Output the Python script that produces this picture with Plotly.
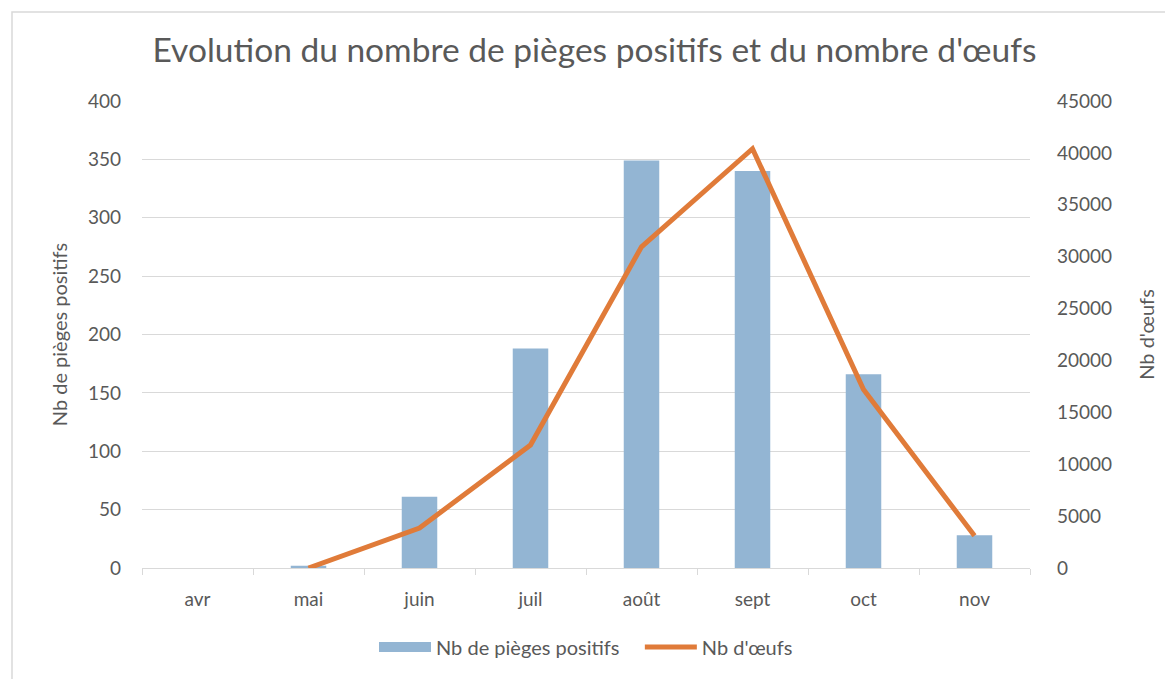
import plotly.graph_objects as go

months = ["avr", "mai", "juin", "juil", "août", "sept", "oct", "nov"]
pieges = [0, 2, 61, 188, 349, 340, 166, 28]
oeufs_months = ["mai", "juin", "juil", "août", "sept", "oct", "nov"]
oeufs = [0, 3850, 11850, 30950, 40400, 17200, 3100]

FONT = "Lato, 'Noto Sans', sans-serif"
GREY = "#595959"
BLUE = "#93B5D3"
ORANGE = "#E07B39"

fig = go.Figure()
fig.add_trace(go.Bar(x=months, y=pieges, name="Nb de pièges positifs",
                     marker=dict(color=BLUE, line=dict(width=0)), width=0.32,
                     showlegend=False))
fig.add_trace(go.Scatter(x=[None], y=[None], name="Nb de pièges positifs   ",
                         mode="lines", line=dict(color=BLUE, width=16)))
fig.add_trace(go.Scatter(x=oeufs_months, y=oeufs, name="Nb d'œufs", yaxis="y2",
                         mode="lines", line=dict(color=ORANGE, width=5)))

fig.update_layout(
    width=1173, height=679,
    margin=dict(l=134, r=151, t=93, b=119, autoexpand=False),
    paper_bgcolor="white", plot_bgcolor="white",
    font=dict(family=FONT, color=GREY, size=19),
    title=dict(text="Evolution du nombre de pièges positifs et du nombre d'œufs",
               x=0.5, xanchor="center", y=0.938, yanchor="middle",
               font=dict(size=33.5, color=GREY, family=FONT)),
    xaxis=dict(type="category", categoryorder="array", categoryarray=months,
               showgrid=False, showline=True, linecolor="#d9d9d9", linewidth=1,
               ticks="outside", tickson="boundaries", tickcolor="#d9d9d9",
               ticklen=6, ticklabelstandoff=14,
               tickfont=dict(size=19, color=GREY), automargin=False),
    yaxis=dict(range=[0, 400], dtick=50, showgrid=True, gridcolor="#d9d9d9",
               gridwidth=1, zeroline=False, ticks="", ticklabelstandoff=20,
               automargin=False,
               title=dict(text="Nb de pièges positifs", font=dict(size=20, color=GREY), standoff=14),
               tickfont=dict(size=19, color=GREY)),
    yaxis2=dict(range=[0, 45000], dtick=5000, overlaying="y", side="right",
                showgrid=False, zeroline=False, ticklabelstandoff=26,
                tickformat="d", automargin=False,
                title=dict(text="Nb d'œufs", font=dict(size=20, color=GREY), standoff=28),
                tickfont=dict(size=19, color=GREY)),
    legend=dict(orientation="h", x=0.5, xanchor="center", y=-0.169, yanchor="middle",
                font=dict(size=20, color=GREY), traceorder="normal", itemwidth=52),
    bargap=0.68,
    showlegend=True,
)

fig.add_shape(type="rect", xref="paper", yref="paper",
              x0=-0.1464, x1=1.18, y0=-0.27, y1=1.1906,
              line=dict(color="#d9d9d9", width=1.5), fillcolor="rgba(0,0,0,0)", layer="below")

fig.write_html("out.html")
